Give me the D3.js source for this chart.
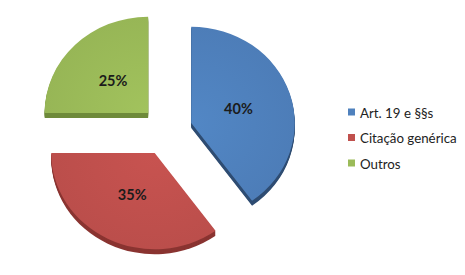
<!DOCTYPE html>
<html><head><meta charset="utf-8">
<script src="https://cdn.jsdelivr.net/npm/d3@7"></script>
<style>body{margin:0;background:#fff}svg{display:block}</style>
</head><body>
<script>
const categories = ["Art. 19 e §§s", "Citação genérica", "Outros"];
const values = [40, 35, 25];
const labels = ["40%", "35%", "25%"];
const colors = ["#4F81BD", "#C0504D", "#9BBB59"];
const sideColors = ["#2E4C72", "#8A3431", "#6E8A3A"];

const W = 465, H = 275;
const svg = d3.select("body").append("svg").attr("width", W).attr("height", H);
const cx = 166.5, cy = 130.7, r = 103.5, ky = 0.93, explode = 26, depth = 5;

const defs = svg.append("defs");
colors.forEach((c, i) => {
  const g = defs.append("radialGradient").attr("id", "g" + i)
    .attr("gradientUnits", "userSpaceOnUse").attr("cx", 0).attr("cy", 0).attr("r", r);
  g.append("stop").attr("offset", "0").attr("stop-color", d3.color(c).brighter(0.12));
  g.append("stop").attr("offset", "1").attr("stop-color", d3.color(c).darker(0.08));
});

const pie = d3.pie().sort(null).value(d => d);
const arcs = pie(values);
const arc = d3.arc().innerRadius(0).outerRadius(r);

arcs.forEach((a, i) => {
  const mid = (a.startAngle + a.endAngle) / 2;
  const ox = cx + explode * Math.sin(mid);
  const oy = cy - explode * Math.cos(mid) * 0.96;
  const g = svg.append("g").attr("transform", `translate(${ox},${oy})`);
  for (let k = depth; k >= 1; k--) {
    g.append("path").attr("d", arc(a))
      .attr("transform", `translate(0,${k}) scale(1,${ky})`)
      .attr("fill", sideColors[i]);
  }
  g.append("path").attr("d", arc(a))
    .attr("transform", `scale(1,${ky})`)
    .attr("fill", `url(#g${i})`);
  const lr = r * 0.48;
  const c = d3.arc().innerRadius(lr).outerRadius(lr).centroid(a);
  g.append("text").attr("x", c[0]).attr("y", c[1] * ky)
    .attr("text-anchor", "middle").attr("dominant-baseline", "central")
    .attr("font-family", "Lato, 'Open Sans', sans-serif").attr("font-weight", "bold")
    .attr("font-size", 14.5).attr("fill", "#1b1b1b").text(labels[i]);
});

const leg = svg.append("g").attr("transform", "translate(348,112)");
categories.forEach((cat, i) => {
  const row = leg.append("g").attr("transform", `translate(0,${i * 25.5})`);
  row.append("rect").attr("x", 0).attr("y", -3.5).attr("width", 7).attr("height", 7).attr("fill", colors[i]);
  row.append("text").attr("x", 12).attr("y", 0.5).attr("dominant-baseline", "central")
    .attr("font-family", "Lato, 'Open Sans', sans-serif").attr("font-size", 13.3)
    .attr("fill", "#222").text(cat);
});
</script>
</body></html>
